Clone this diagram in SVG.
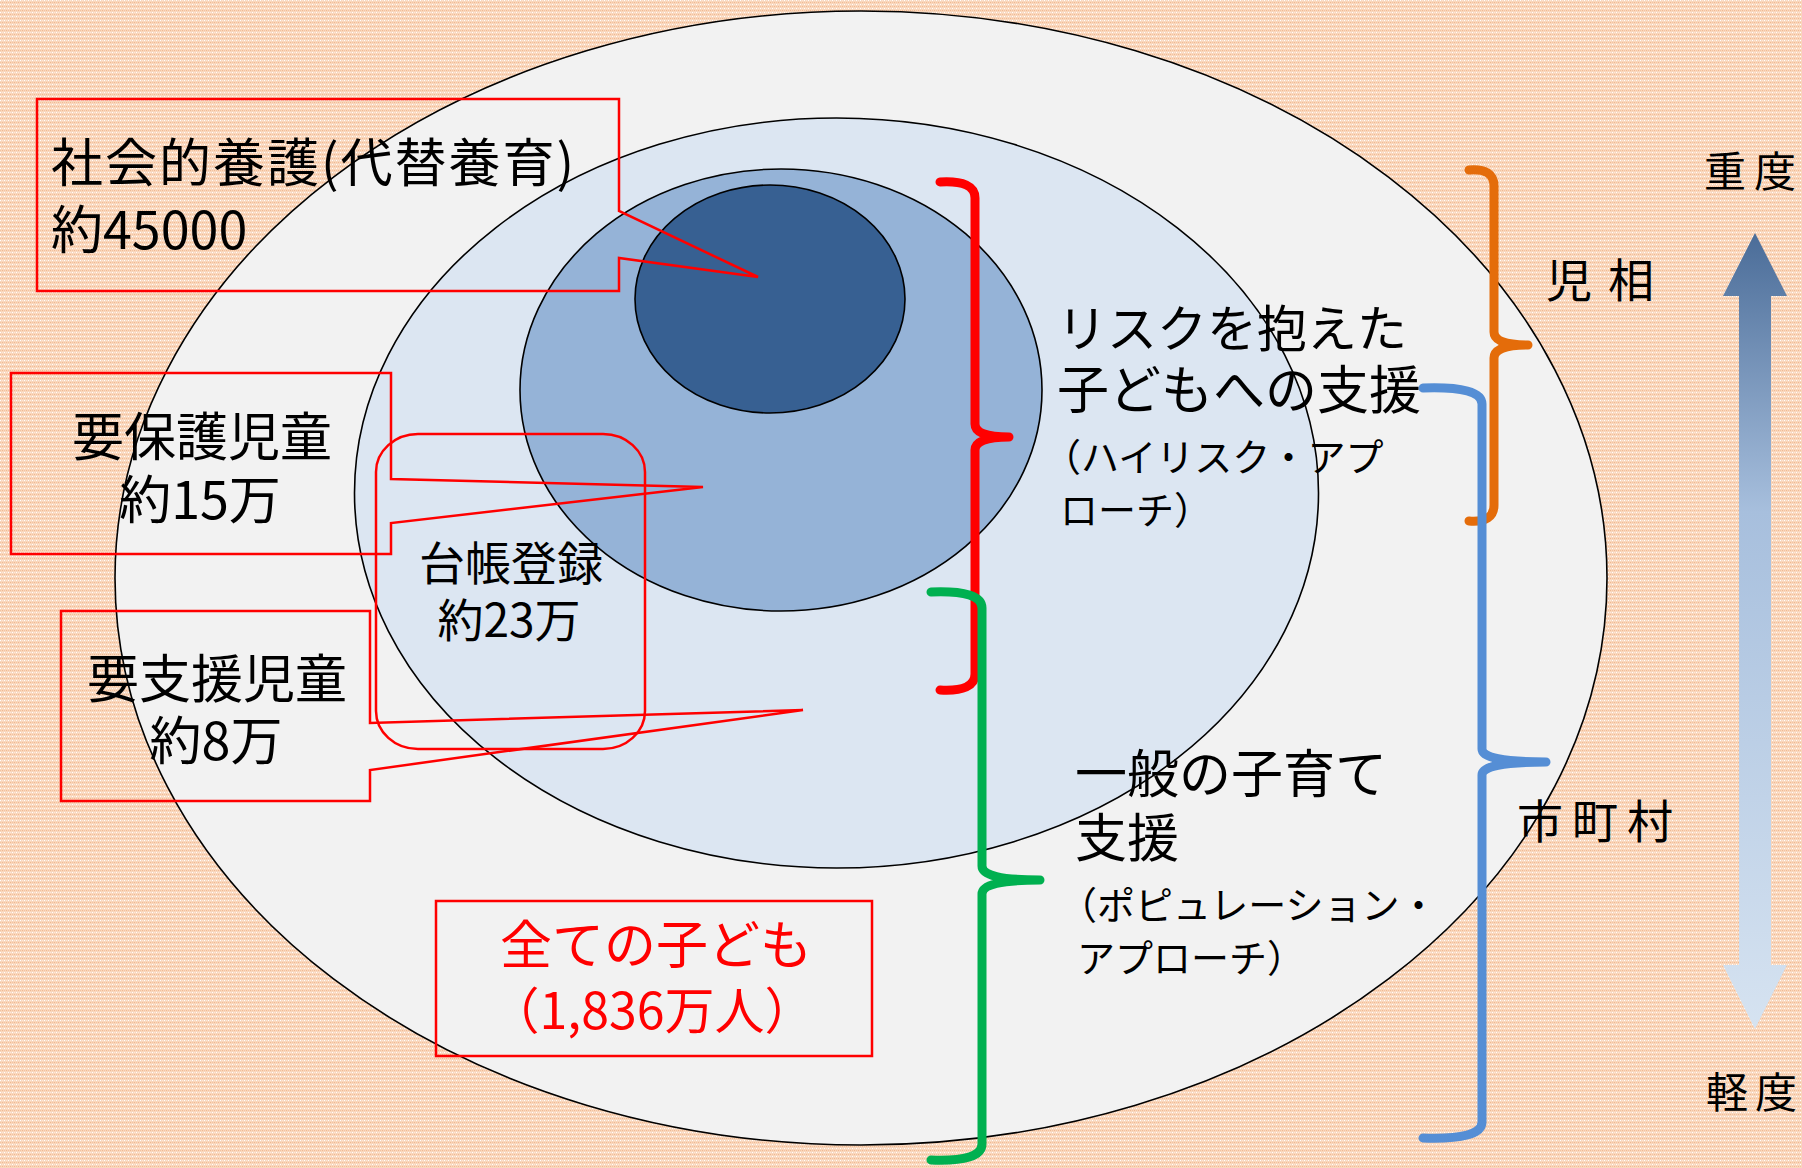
<svg xmlns="http://www.w3.org/2000/svg" width="1802" height="1168" viewBox="0 0 1802 1168">
<defs>
<pattern id="bg" width="4" height="4" patternUnits="userSpaceOnUse">
<rect width="4" height="4" fill="#f9d7bd"/>
<rect x="0" y="0" width="1" height="1" fill="#ffffff"/>
<rect x="2" y="2" width="1" height="1" fill="#f2b88f"/>
<rect x="2" y="0" width="1" height="1" fill="#fce8da"/>
<rect x="0" y="2" width="1" height="1" fill="#f4c29f"/>
</pattern>
<linearGradient id="arrowGrad" x1="0" y1="0" x2="0" y2="1">
<stop offset="0" stop-color="#4a6c98"/>
<stop offset="0.35" stop-color="#a7bfdd"/>
<stop offset="1" stop-color="#d6e3f1"/>
</linearGradient>
</defs>
<style>
.ell{stroke:#000;stroke-width:1.6}
.call{fill:none;stroke:#ff0000;stroke-width:2.5}
.t{font-family:"Noto Sans CJK JP","Noto Sans",sans-serif;fill:#000}
.red{fill:#ff0000}
.br{fill:none;stroke-width:9;stroke-linecap:round;stroke-linejoin:round}
</style>
<rect width="1802" height="1168" fill="url(#bg)"/>

<g id="ellipses">
<ellipse id="all-children" class="ell" cx="861" cy="578" rx="746" ry="567" fill="#f2f2f2"/>
<ellipse id="registered" class="ell" cx="836.5" cy="493" rx="482" ry="375" fill="#dce6f2"/>
<ellipse id="protection" class="ell" cx="781" cy="390" rx="261" ry="221" fill="#95b3d7"/>
<ellipse id="social-care" class="ell" cx="770" cy="299" rx="135" ry="114" fill="#376092"/>
</g>

<g id="connectors">
<path id="br-red" class="br" stroke="#ff0000" d="M940 182 Q975 180 975 198 L975 424 Q975 437 1009 437 M1009 437 Q975 437 975 450 L975 674 Q975 692 940 690"/>
<path id="br-green" class="br" stroke="#00b050" d="M931 592 Q982 590 982 608 L982 866 Q982 880 1040 880 M1040 880 Q982 880 982 894 L982 1144 Q982 1162 931 1160"/>
<path id="br-orange" class="br" stroke="#e46c0a" d="M1469 170 Q1494 168 1494 186 L1494 332 Q1494 345 1528 345 M1528 345 Q1494 345 1494 358 L1494 505 Q1494 523 1469 521"/>
<path id="br-blue" class="br" stroke="#558ed5" d="M1423 388 Q1482 386 1482 404 L1482 749 Q1482 762 1546 762 M1546 762 Q1482 762 1482 775 L1482 1122 Q1482 1140 1423 1138"/>
<path id="severity-arrow" d="M1755 233 L1787 296 L1771 296 L1771 965 L1787 965 L1755 1029 L1723 965 L1739 965 L1739 296 L1723 296 Z" fill="url(#arrowGrad)"/>
</g>

<g id="callout-social">
<path class="call" d="M37 99 H619 V211 L758 277 L619 258 V291 H37 Z"/>
<text class="t" x="51" y="182" font-size="52" letter-spacing="2">社会的養護(代替養育)</text>
<text class="t" x="51" y="249" font-size="52">約45000</text>
</g>

<g id="callout-protection">
<path class="call" d="M11 373 H391 V479 L703 487 L391 523 V554 H11 Z"/>
<text class="t" x="202" y="456" font-size="52" text-anchor="middle">要保護児童</text>
<text class="t" x="200" y="519" font-size="52" text-anchor="middle">約15万</text>
</g>

<g id="callout-support">
<path class="call" d="M61 611 H370 V723 L803 710 L370 770 V801 H61 Z"/>
<text class="t" x="217" y="698" font-size="52" text-anchor="middle">要支援児童</text>
<text class="t" x="216" y="760" font-size="52" text-anchor="middle">約8万</text>
</g>

<g id="callout-registry">
<rect class="call" x="376" y="434" width="269" height="315" rx="42" ry="38"/>
<text class="t" x="511" y="580" font-size="46" text-anchor="middle">台帳登録</text>
<text class="t" x="509" y="637" font-size="46" text-anchor="middle">約23万</text>
</g>

<g id="callout-all">
<rect class="call" x="436" y="901" width="436" height="155"/>
<text class="t red" x="656" y="964" font-size="52" text-anchor="middle">全ての子ども</text>
<text class="t red" x="652" y="1029" font-size="50" text-anchor="middle">（1,836万人）</text>
</g>

<g id="label-highrisk">
<text class="t" x="1057" y="347" font-size="50">リスクを抱えた</text>
<text class="t" x="1057" y="409" font-size="52">子どもへの支援</text>
<text class="t" x="1043" y="471" font-size="38">（ハイリスク・アプ</text>
<text class="t" x="1060" y="524" font-size="38">ローチ）</text>
</g>

<g id="label-population">
<text class="t" x="1075" y="793" font-size="52">一般の子育て</text>
<text class="t" x="1075" y="857" font-size="52">支援</text>
<text class="t" x="1059" y="919" font-size="38">（ポピュレーション・</text>
<text class="t" x="1077" y="972" font-size="38">アプローチ）</text>
</g>

<g id="label-jiso">
<text class="t" x="1546" y="297" font-size="46">児<tspan dx="16">相</tspan></text>
</g>
<g id="label-city">
<text class="t" x="1517" y="838" font-size="46">市<tspan dx="9">町</tspan><tspan dx="9">村</tspan></text>
</g>
<g id="label-heavy">
<text class="t" x="1704" y="187" font-size="42">重<tspan dx="8">度</tspan></text>
</g>
<g id="label-light">
<text class="t" x="1706" y="1108" font-size="42">軽<tspan dx="7">度</tspan></text>
</g>
</svg>
